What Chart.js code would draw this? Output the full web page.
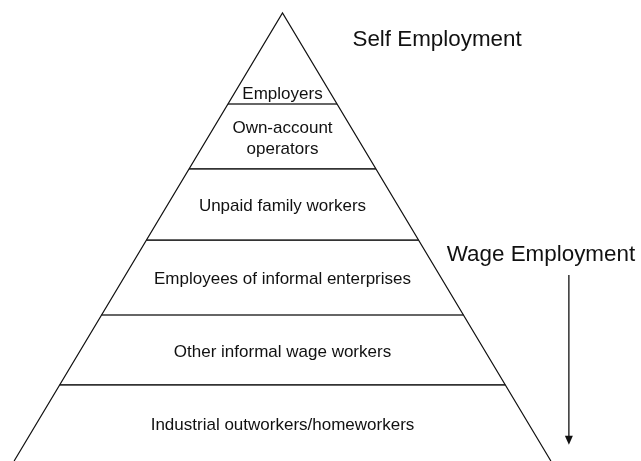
<!DOCTYPE html>
<html>
<head>
<meta charset="utf-8">
<script src="https://cdn.jsdelivr.net/npm/chart.js@4.4.1/dist/chart.umd.min.js"></script>
<style>
  html, body { margin:0; padding:0; background:#fff; }
  #pyramid { display:block; }
</style>
</head>
<body>
<canvas id="pyramid" width="641" height="461"></canvas>
<script>
// pyramid of informal employment — drawn on hidden linear scales
// y = depth below the apex (0 = apex, 1 = bottom edge), x = half-width at depth 1

const INK   = '#111';
const RULE  = '#333';
const FONT  = '"Liberation Sans", Arial, sans-serif';

// layers from top to bottom (each entry = text lines)
const layers = [
  ['Employers'],
  ['Own-account', 'operators'],
  ['Unpaid family workers'],
  ['Employees of informal enterprises'],
  ['Other informal wage workers'],
  ['Industrial outworkers/homeworkers'],
];
// depth of the lower edge of every layer
const layerBottoms = [0.203, 0.348, 0.507, 0.674, 0.830, 1.0];

const sideTitles = ['Self Employment', 'Wage Employment'];

// ── datasets built from the layer data ──
const base = layerBottoms[layerBottoms.length-1];
const outline = [ { x: -base, y: base }, { x: 0, y: 0 }, { x: base, y: base } ];
const rules = layerBottoms.slice(0, -1).map(d => ({
  type: 'line',
  data: [{ x: -d, y: d }, { x: d, y: d }],
  borderColor: RULE, borderWidth: 1.6, pointRadius: 0, showLine: true,
}));

// ── text + arrow plugin ──
const labelsPlugin = {
  id: 'pyramidLabels',
  afterDatasetsDraw(chart) {
    const { ctx, scales: { x, y } } = chart;
    ctx.save();
    ctx.fillStyle = INK;
    ctx.textAlign = 'center';
    ctx.textBaseline = 'middle';

    // layer labels
    ctx.font = `17px ${FONT}`;
    layers.forEach((lines, i) => {
      const top = i === 0 ? 0 : layerBottoms[i-1];
      const bot = layerBottoms[i];
      // apex layer: label sits low, where the triangle is wide enough
      const mid = i === 0 ? bot - 0.027 : (top + bot) / 2;
      const cy = y.getPixelForValue(mid) + 2;
      const lh = 21;
      lines.forEach((t, k) => {
        ctx.fillText(t, x.getPixelForValue(0), cy + (k - (lines.length-1)/2) * lh);
      });
    });

    // side titles
    ctx.font = `22.4px ${FONT}`;
    ctx.fillText(sideTitles[0], x.getPixelForValue(0.576), y.getPixelForValue(0.058) + 1);
    const wx = x.getPixelForValue(0.963), wy = y.getPixelForValue(0.538) + 1;
    ctx.fillText(sideTitles[1], wx, wy);

    // arrow pointing down the pyramid
    const ax = x.getPixelForValue(1.067);
    const ay0 = wy + 20;
    const ay1 = y.getPixelForValue(0.964);
    ctx.strokeStyle = INK;
    ctx.lineWidth = 1.3;
    ctx.beginPath();
    ctx.moveTo(ax, ay0);
    ctx.lineTo(ax, ay1 - 8);
    ctx.stroke();
    ctx.beginPath();
    ctx.moveTo(ax - 4, ay1 - 9);
    ctx.lineTo(ax + 4, ay1 - 9);
    ctx.lineTo(ax, ay1);
    ctx.closePath();
    ctx.fill();
    ctx.restore();
  }
};

new Chart(document.getElementById('pyramid'), {
  type: 'scatter',
  data: {
    datasets: [
      { type: 'line', data: outline, borderColor: INK, borderWidth: 1.2, pointRadius: 0, showLine: true, tension: 0 },
      ...rules,
    ]
  },
  options: {
    responsive: false, animation: false, devicePixelRatio: 1,
    layout: { padding: 0 },
    plugins: { legend: { display:false }, tooltip: { enabled:false } },
    scales: {
      x: { type: 'linear', display: false, min: -1.0525, max: 1.3357 },
      y: { type: 'linear', display: false, reverse: true, min: -0.029, max: 1.0 }
    }
  },
  plugins: [labelsPlugin]
});
</script>
</body>
</html>
